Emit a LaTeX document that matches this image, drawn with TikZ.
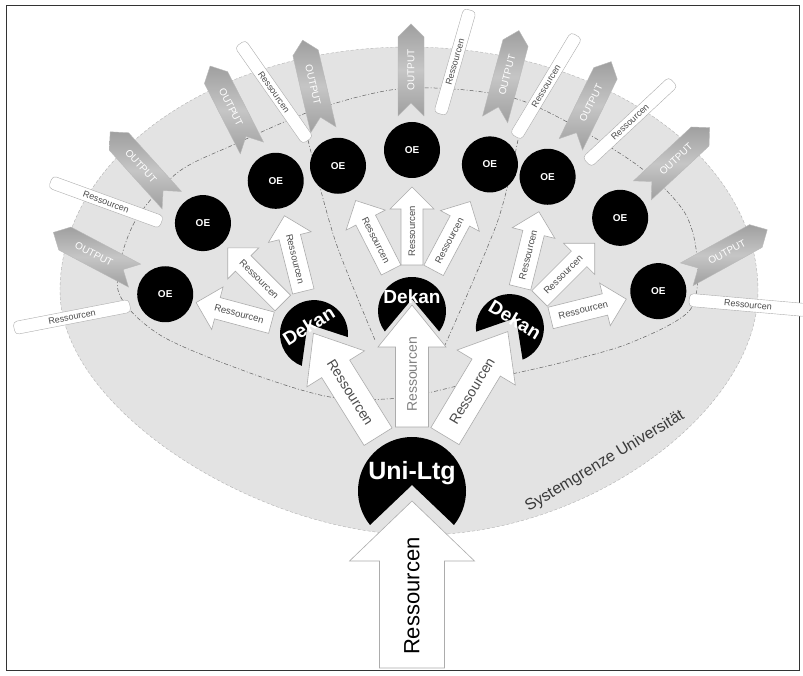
\documentclass[tikz,border=0pt]{standalone}
\usepackage{fontspec}
\setmainfont{Liberation Sans}
\usetikzlibrary{shapes.symbols}

\begin{document}
\begin{tikzpicture}[
    x=1pt, y=1pt,
    uni/.style={circle, minimum size=108pt, inner sep=0pt},
    dekan/.style={circle, minimum size=68pt, inner sep=0pt},
    headtext/.style={text=white, inner sep=0pt, font=\bfseries\fontsize{19}{19}\selectfont},
    oe/.style={circle, fill=black, minimum size=56pt, inner sep=0pt, text=white, font=\bfseries\fontsize{10}{10}\selectfont},
    outarrow/.style={signal, signal to=east, signal from=west, minimum width=92pt, minimum height=26pt, inner sep=1pt, draw=gray!55, top color=gray!75, bottom color=gray!75, middle color=gray!45, text=white, font=\fontsize{10}{10}\selectfont},
    outback/.style={signal to=west, signal from=east},
    resbar/.style={draw=gray!65, fill=white, rounded corners=4pt, minimum width=118pt, minimum height=13pt, inner sep=1pt, text=gray!60!black, font=\fontsize{9}{9}\selectfont},
    small/.style={font=\fontsize{9.5}{9.5}\selectfont, text=gray!60!black},
    big/.style={font=\fontsize{14}{14}\selectfont, text=gray!60!black},
    systext/.style={anchor=base, inner sep=0pt, text=gray!45!black, font=\fontsize{16}{16}\selectfont},
    sysborder/.style={dash pattern=on 3pt off 2pt, draw=gray!60},
    sectorline/.style={dash pattern=on 4pt off 2pt on 1pt off 2pt, draw=gray!75!black, line width=0.5pt},
    % flow arrow: length / shaft half width / head half width / head length / text turn
    pics/flow/.style n args={5}{code={
        \path[draw=gray!65, fill=white, line width=0.6pt] (0,-#2) -- ({#1-#4},-#2) -- ({#1-#4},-#3) -- (#1,0) -- ({#1-#4},#3) -- ({#1-#4},#2) -- (0,#2) -- cycle;
        \node[transform shape, rotate=#5, inner sep=0pt] (-label) at ({0.43*#1},0) {Ressourcen};
    }}
]

% Frame
\useasboundingbox (0,0) rectangle (803,675);
\draw[gray!40!black, line width=0.8pt] (6,5) rectangle (799,670);

% System boundary and faculties
\path[fill=black!11, sysborder] (758,384) arc[start angle=0, end angle=180, x radius=349pt, y radius=244pt] .. controls (60,265) and (260,140) .. (420,140) .. controls (590,140) and (758,265) .. cycle;
\draw[sectorline] plot[smooth cycle] coordinates {(118,385) (133,450) (177,502) (233,530) (320,567) (410,587) (520,575) (630,515) (683,465) (697,417) (690,365) (630,332) (560,312) (470,292) (400,277) (330,278) (250,302) (160,340)};
\draw[sectorline] plot[smooth] coordinates {(308,535) (335,435) (375,335)};
\draw[sectorline] plot[smooth] coordinates {(518,535) (497,452) (445,330)};
\node[systext, rotate=31] (sys) at (607,210) {Systemgrenze Universität};

% Uni-Ltg and Dekan
\node[uni] (uni) at (412,184) {};
\node[dekan] (dl) at ([shift={(122:185pt)}]uni.center) {};
\node[dekan] (dc) at ([shift={(90:180pt)}]uni.center) {};
\node[dekan] (dr) at ([shift={(59:190pt)}]uni.center) {};

\fill ([shift={(321:54pt)}]uni.center) arc[start angle=321, end angle=579, radius=54pt] -- ([shift={(90:6pt)}]uni.center) -- cycle;
\fill ([shift={(355:34pt)}]dl.center) arc[start angle=355, end angle=609, radius=34pt] -- ([shift={(122:12pt)}]dl.center) -- cycle;
\fill ([shift={(323:34pt)}]dc.center) arc[start angle=323, end angle=577, radius=34pt] -- ([shift={(90:12pt)}]dc.center) -- cycle;
\fill ([shift={(292:34pt)}]dr.center) arc[start angle=292, end angle=546, radius=34pt] -- ([shift={(59:12pt)}]dr.center) -- cycle;

\node[headtext, font=\bfseries\fontsize{25}{25}\selectfont] (unitext) at ([yshift=18pt]uni.center) {Uni-Ltg};
\node[headtext, rotate=32] (dltext) at ([shift={(122:10pt)}]dl.center) {Dekan};
\node[headtext] (dctext) at ([shift={(90:14pt)}]dc.center) {Dekan};
\node[headtext, rotate=-31] (drtext) at ([shift={(59:10pt)}]dr.center) {Dekan};

% Output and outside resources
\node[outarrow, outback, rotate=-28] (out1) at (94,421) {OUTPUT};
\node[outarrow, outback, rotate=-48] (out2) at (141,509) {OUTPUT};
\node[outarrow, outback, rotate=-63] (out3) at (231,568) {OUTPUT};
\node[outarrow, outback, rotate=-77] (out4) at (313,590) {OUTPUT};
\node[outarrow, rotate=90] (out5) at (411,605) {OUTPUT};
\node[outarrow, rotate=75] (out6) at (507,600) {OUTPUT};
\node[outarrow, rotate=64] (out7) at (591,572) {OUTPUT};
\node[outarrow, rotate=43] (out8) at (676,516) {OUTPUT};
\node[outarrow, rotate=29] (out9) at (727,423) {OUTPUT};

\node[resbar, rotate=11] (bar1) at (72,358) {Ressourcen};
\node[resbar, rotate=-20] (bar2) at (106,473) {Ressourcen};
\node[resbar, rotate=-55] (bar4) at (274,583) {Ressourcen};
\node[resbar, rotate=74, minimum width=108pt] (bar5) at (455,613) {Ressourcen};
\node[resbar, rotate=59] (bar6) at (546,589) {Ressourcen};
\node[resbar, rotate=43] (bar7) at (630,553) {Ressourcen};
\node[resbar, rotate=-5] (bar9) at (748,370) {Ressourcen};

% OE
\node[oe] (oe1) at ([shift={(165:154pt)}]dl.center) {OE};
\node[oe] (oe2) at ([shift={(135:157pt)}]dl.center) {OE};
\node[oe] (oe3) at ([shift={(104:158pt)}]dl.center) {OE};
\node[oe] (oe4) at ([shift={(117:163pt)}]dc.center) {OE};
\node[oe] (oe5) at ([shift={(90:161pt)}]dc.center) {OE};
\node[oe] (oe6) at ([shift={(62:166pt)}]dc.center) {OE};
\node[oe] (oe7) at ([shift={(76:156pt)}]dr.center) {OE};
\node[oe] (oe8) at ([shift={(45:156pt)}]dr.center) {OE};
\node[oe] (oe9) at ([shift={(14:153pt)}]dr.center) {OE};

% Resources flowing down the hierarchy
\pic[rotate=90, font=\fontsize{22}{22}\selectfont] (input) at ([shift={(270:177pt)}]uni.center) {flow={167}{32.5}{62.5}{60}{0}};
\pic[rotate=122, big] (toleft) at ([shift={(122:64pt)}]uni.center) {flow={122}{16.5}{34}{42}{180}};
\pic[rotate=90, big, text=gray] (tocenter) at ([shift={(90:64pt)}]uni.center) {flow={122}{16.5}{34}{42}{0}};
\pic[rotate=59, big] (toright) at ([shift={(59:64pt)}]uni.center) {flow={122}{16.5}{34}{42}{0}};

\pic[rotate=165, small] (res1) at ([shift={(165:44pt)}]dl.center) {flow={78}{11}{22}{22}{180}};
\pic[rotate=135, small] (res2) at ([shift={(135:44pt)}]dl.center) {flow={78}{11}{22}{22}{180}};
\pic[rotate=104, small] (res3) at ([shift={(104:44pt)}]dl.center) {flow={78}{11}{22}{22}{180}};
\pic[rotate=117, small] (res4) at ([shift={(117:46pt)}]dc.center) {flow={78}{11}{22}{22}{180}};
\pic[rotate=90, small] (res5) at ([shift={(90:46pt)}]dc.center) {flow={78}{11}{22}{22}{0}};
\pic[rotate=62, small] (res6) at ([shift={(62:46pt)}]dc.center) {flow={78}{11}{22}{22}{0}};
\pic[rotate=76, small] (res7) at ([shift={(76:42pt)}]dr.center) {flow={78}{11}{22}{22}{0}};
\pic[rotate=45, small] (res8) at ([shift={(45:42pt)}]dr.center) {flow={78}{11}{22}{22}{0}};
\pic[rotate=14, small] (res9) at ([shift={(14:42pt)}]dr.center) {flow={78}{11}{22}{22}{0}};

\end{tikzpicture}
\end{document}
